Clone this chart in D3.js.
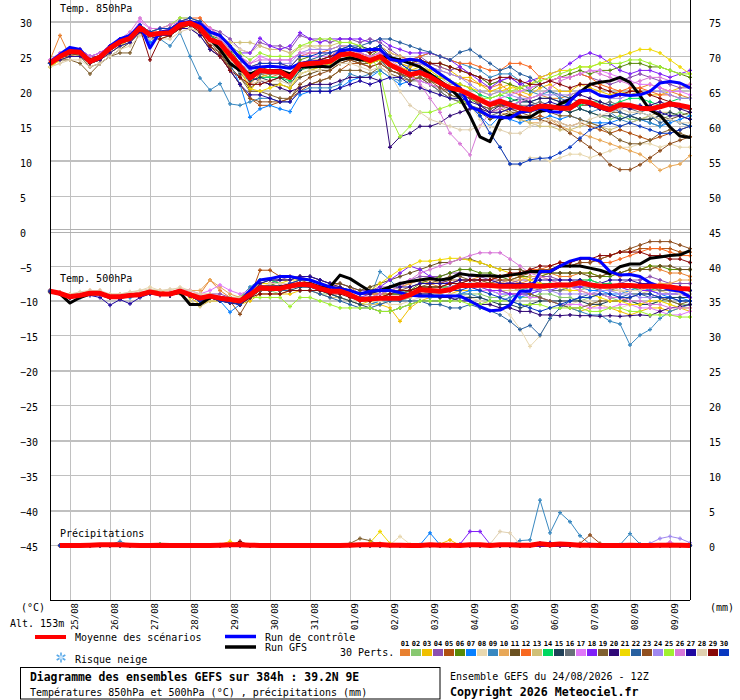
<!DOCTYPE html>
<html>
<head>
<meta charset="utf-8">
<script src="https://cdn.jsdelivr.net/npm/d3@7"></script>
<style>
  body { margin: 0; background: #fff; }
  svg text { font-family: 'DejaVu Sans Mono', monospace; font-size: 10px; fill: #000; }
</style>
</head>
<body>
<svg id="gefs"></svg>
<script>
//Data - 6h steps from 24/08 12Z (t=0) to +384h
const hours = d3.range(0, 385, 6);
const precipHours = d3.range(6, 385, 6);
const dayHours = d3.range(12, 373, 24);
const dateLabels = ['25/08','26/08','27/08','28/08','29/08','30/08','31/08','01/09','02/09','03/09','04/09','05/09','06/09','07/09','08/09','09/09'];
const leftTicks = [30,25,20,15,10,5,0,-5,-10,-15,-20,-25,-30,-35,-40,-45];
const rightTicks = [75,70,65,60,55,50,45,40,35,30,25,20,15,10,5,0];
const pertLabels = ['01','02','03','04','05','06','07','08','09','10','11','12','13','14','15','16','17','18','19','20','21','22','23','24','25','26','27','28','29','30'];
const pertColors = ['#e88030','#88c870','#f0c000','#8c50b0','#b05010','#588a08','#0880ff','#e8d8b0','#3888c0','#e8a858','#6a5020','#f86820','#d0c078','#00d860','#204058','#687078','#e078f8','#8020f8','#806030','#300878','#f0d800','#2860a0','#905020','#a088f0','#a0f030','#d878d8','#2008a0','#e0d0b0','#880808','#0838c0'];

//850hPa
const mean850 = [24,25,25.7,25.6,24.3,24.9,26.2,27.1,27.6,29.1,28.1,28.3,28.4, 29.5,29.8,29.1,27.4,26.9,25.2,23.6,21.9,23,22.8,22.8,22,23.8, 24,24.1,24.3,25.2,25.4,25,24.4,25,23.8,23.1,22.4,22.7,22.1, 21.2,20.5,20.2,19.5,18.8,18.1,18.6,18.1,17.6,17.4,17.9,17.8,17.6, 17.6,18.6,18.4,17.8,17.4,18.1,18,17.6,17.5,17.8,18.2,18,17.7];
const control850 = [24.2,25.3,26.3,26,24.3,25,26.5,27.5,28,29.5,26.2,28.5,28.7, 29.8,30,29.7,28.5,28,26.5,24.7,23.3,23.5,23.6,23.5,23.3,24, 24.2,24.3,24.3,25.8,26,25.8,26,26,24.6,24.3,24.6,24.4,23.5, 22.5,21.5,20.5,17.8,17.2,16.4,16.3,16.2,17,17.2,17.6,17.1,17, 18.6,20,20.2,19.4,19.2,19.6,19.4,19.5,20,21.2,21.4,21.2,20.5];
const gfs850 = [24,25,25.5,25.5,24.5,25,26,27,27.5,29,28,28.3,28.5, 29.5,29.8,29,27.5,26,24,23,22.5,23,23,23,22.5,23.5, 23.5,23.6,23.5,24.5,24.8,24.5,24.5,25,24.8,24.5,24,23.5,22.5, 21.5,20.5,19,16.5,13.5,12.8,16,16.6,16.3,16.3,17.2,17.3,18.2, 18.8,19.9,21,21.3,21.5,22,21.3,19.4,17.3,16.6,14.9,13.6,13.4];
const perts850 = [
  [24.5,28,25,25.5,24,25,26.5,27.5,28,29.5,28.5,28.5,29, 30,30.5,30,28,27,25,23,21,22.5,22,22.5,21.5,23.5, 24,24.5,25,26,26,25.5,25,25.5,24.5,24,23.5,24,23.5, 23,22.5,22,21.5,21,20.5,21,20,19.5,19,19.5,19,19, 19.5,20,20,19.5,19,19.5,20,20.5,21,20.5,20,19.5,19],
  [23.5,24.5,25.5,25,24,24.5,26,27,27.5,29,28,28,28, 29,29.5,29,27.5,27,25.5,24,22,22.5,22,22,21,22.5, 23,23.5,24,24.5,25,24.5,24,24.5,23,22.5,22,22,21.5, 21,20,19.5,19,18.5,18,18.5,18,17.5,17.5,18,18,17.5, 17,17.5,17,16.5,16,16.5,16,16,16.5,16,16.5,17,16.5],
  [23.5,24.5,25,25,24,24.5,25.5,26.5,27,28.5,27.5,27.5,28, 29,29.5,29,27,26.5,25,23.5,20,22,22.5,23,22.5,24, 24,24,24,25,25,24.5,24,25,24.5,24,23.5,24.5,24, 23.5,23,22,22,21,20,20.5,21,20,19.5,20.5,21,20, 20,21,20.5,20,19.5,20,19.5,20,19.5,19.5,20,20.5,21],
  [24,25,26,26,25,25,26.5,27.5,28,29.5,28.5,29,29, 30,30,30,29,28.5,27.5,26,25.5,27,26.5,26.5,26,28, 27.5,27.5,27,27.5,27.5,27,27.5,27,26,25,24.5,25,24, 23.5,23,23.5,22.5,22,21,21.5,22,21,20.5,21,21.5,22, 22,22.5,22,21.5,21,21.5,22,22.5,22,21.5,21,20.5,20.5],
  [24,25,25.5,25.5,24.5,25,26,27,27.5,29,28,28.5,28.5, 29.5,30,29,26,25,23,21,19,18,18,18.5,19,20, 21,21.5,22,23,24,24,23.5,24,23,22.5,22,22.5,22, 21,20,20.5,19.5,18,17,17.5,17,16.5,16,16.5,16,15.5, 15,15.5,15,14.5,14,14.5,14,13.5,13,13.5,14,14.5,15],
  [24,25,25.5,25.5,24.5,25,26,27,27.5,29,28,28.5,28.5, 29.5,30,29.5,28,27.5,26,24,22.5,23.5,23,23,22.5,24.5, 25,25,25,26,26,25.5,25,26,25,24.5,24,24.5,24, 24,23.5,23,22.5,22,21,21.5,21,20.5,20,21,21.5,22, 22.5,23,22.5,23,23,23.5,24,24,23.5,23.5,23,22.5,22],
  [24,25,26,26,24.5,25,26,27,28,29.5,27,28,28.5, 29.5,30,29,27,26,24,21,16.3,17.5,18,17.5,17.1,19.5, 20,20,20,20.5,21.5,22,22,23,22,21,21.5,22,21, 20,19,18.5,18,16.5,15,16.5,16,15.5,16,16,16.5,16, 16.5,16,15.5,15.5,15.5,16,16.5,16,15.5,15,15.5,16,16.5],
  [23.5,24,25,25,24,24.5,25.5,26.5,27,28.5,28,28,28, 29,29.5,29,28,28,27,26,25.5,26.5,26,26,25.5,26, 26.5,26,26,26.5,26,25.5,26,25.5,24,23,22.5,21,20, 19.5,19,18.5,18,16,14,12,9.5,9.5,10.5,10.5,10,10.5, 11,11,10.5,11,11.5,12,12,12.5,12.5,12,12.5,12,12],
  [24,25,25.5,25.5,24.5,25,25.5,26.5,27,28.5,27.5,27.5,26.5, 28.4,25,21.9,20.2,21.1,18.2,18,18.5,19,19,18.5,18.5,20, 20.5,20.5,20.5,21,22.5,22,22.5,23,22,21.5,24,25,25.5, 25,24.5,24,23.5,23,22,22.5,22.5,21.5,20,19.5,20,19, 18.5,17.5,17,17.5,17,16,15.5,16,15.5,15,16,15.5,15],
  [24,25,25.5,25.5,24,25,26.5,27.5,28,29.5,28.5,28.5,28.5, 29.5,30,29.5,28,27,25.5,24,22,23,23,23,22.5,24, 24.5,24.5,24.5,25.5,25.5,25,24.5,25,23.5,23,22,22,21, 20,19,18.5,18,17.5,17,17,16.5,16,15.5,15.5,16,15, 14.5,14,13.5,13,12.5,12,11.5,11,10,8.7,9.3,9.6,10.8],
  [24,25,25,25,23.5,24,25,26,27,28.5,27.5,28,28, 29,29.5,28.5,26.5,25.5,23.5,22,20.5,21.5,21,21,20.5,22, 22.5,23,23,24,24.5,24,24,24.5,23,22.5,21.5,22,21, 20.5,19.5,19,18,17,16,16.5,17,17,17.5,17,18,17.5, 17.5,18,18,17.5,17,17,16.5,16,16,16.5,16,16.5,17],
  [24,25,26,26,24.5,25,26.5,27.5,28,29.5,28.5,29,29, 30,30.5,30.5,29,28,26.5,25,23.5,24,24,24,23.5,25, 25.5,25.5,26,26.5,26.5,26,26,26.5,25.5,25,24.5,25,25.5, 25,24.5,24,24,23.5,23,23,24,24,23.5,22,21.5,22, 22,22.5,22,21,20.5,20,20.5,20.5,20,19.5,19.5,19,19],
  [23.5,24.5,25,25,24,24.5,25.5,26.5,27,28.5,27.5,27.5,28, 29,29,28.5,27.5,27.5,27,27,27,26.5,26,26,25.5,26.5, 26.5,26.5,26.5,27,27,26.5,26,26.5,25.5,25,24,24,23, 22,21,21,20.5,19.5,18,18,17,16,15.5,15,15,14.5, 14.5,15,15.5,15,14.5,15,15.5,16,16.5,17,17,16.5,16],
  [24,25,25.5,25.5,24.5,25,26,27,27.5,29,28,28.5,28.5, 29.5,30,29.5,28,27,25,23,21.5,22,22,22,21.5,23, 23.5,23.5,24,25,25,24.5,24,24.5,23.5,23,22.5,23,22.5, 22,21.5,21,20.5,19.5,19,19.5,19,18.5,18.5,19,19,18.5, 18,18,18.5,18.5,18,18.5,19,19,18.5,18,18.5,19,19],
  [24,25,25.5,25.5,24,25,26,27,27.5,29,28,28,28.5, 29.5,29.5,29,27.5,26.5,24.5,22.5,21.5,22,21.5,22,21,23, 24,24.5,25,25.5,26,26.5,26,26.5,25,24,23,23,22, 21,20,19.5,19,18,17.5,18,18.5,19,18.5,18,17.5,17.5, 17,17.5,17,16.5,16.5,16,16.5,16,16,16.5,17,16.5,16],
  [24,25,25.5,25.5,24.5,25,26,27,27.5,29,28,28,28.5, 29.5,30,29.5,27.5,26.5,24.5,23,22,22.5,22.5,22.5,22,24, 24,24,24.5,25,25,24.5,24,24.5,23,22.5,21.5,21.5,21, 20,19,18.5,18,17.5,16.5,17,17.5,18,18,18.5,18,18, 18,18.5,18,18,18.5,18,17.5,17,17.5,18,18,17.5,17.5],
  [24.5,25.5,26,26,25,25.5,26.5,27.5,28,30,29,29,29.5, 30.5,30.5,30,29,28,26.5,25,24,25,24.5,24.5,24.5,25.5, 25,25,25,26,26,25.5,25,25.5,24,23,22,21.5,21, 20.5,20,19.5,19,18.5,18.5,19,19.5,20,20.5,21,21.5,22, 22,22.5,23,23,22.5,22,21.5,21,21,20.5,20,20,19.5],
  [24,25,25.5,26,25,25.5,26.5,27.5,28,29.5,28.5,29,29, 30,30,29.5,28.5,28,26.5,25.5,25.5,27.6,26.5,26,26.5,28.4, 27.5,27,27.5,27.5,27.5,27.5,27,27.5,26.5,26,25.5,25.5,25.5, 25,24.5,23.5,22.5,21.5,20.5,21.5,22,21,21.5,22,22.5,23, 24,25,25.5,25,24,23,22.5,23,23,22.5,22,22.5,23],
  [24,24.5,24.5,24,22.5,24,25,25.5,25.5,28.5,27.5,28,28, 29,29,28,26,25,23.5,22,20,20,19.5,19,19,20.5, 21,21.5,22,23,23,23,22.5,23.5,22.5,22,21.5,22,21.5, 21,20,19.5,19,18,17.5,18,17.5,17,17,17.5,17,16.5, 16.5,16,15.5,15,14,13,12.5,12.5,13,14,14.5,14,13.5],
  [24,25,25.5,25.5,24.5,25,26,27,27.5,29,28,28,28.5, 29.5,29.5,29,27.5,26.5,24.5,23,22,21.5,21,20.5,20,20.5, 21,21,21,21.5,22,22,22,21.5,12,13.5,14,15,15, 15.5,16.5,17,17.5,17.5,17,18,18,18.5,18.5,19,19,18.5, 19,19.5,19,18.5,18,18,17.5,17.5,18,18.5,18,17.5,17],
  [23.5,24.5,25,25,24,24.5,25.5,26.5,27.5,29,28,28,28, 29,29.5,29,27.5,26.5,24.5,23,20.4,20,20.5,21,20.5,22.5, 23,23.5,24,25,25,24.5,24,24.5,24,23.5,23,23.5,23, 22,21.5,21,20.5,20,19.5,20,20.5,20.5,21,22,22.5,23, 23,23.5,23.5,24,24.5,25,25.5,26,26,25.5,24.5,23.5,22.5],
  [24,25,26,25.5,24.5,25,26,27,27.5,29,28,28.5,28.5, 29.5,30,29.5,28,27,25.5,24,22.5,23,23,23,22.5,24, 24.5,25,25.5,26,26.5,26.5,27,27.5,27.5,27,26.5,26,25.6, 25,24.5,25.6,26,25,24,23,23.5,22.5,22,21,20,19.5, 19,18.5,18,17.5,18,17,16.5,17,16.5,15.5,16,15.5,15],
  [24,25,25.5,25.5,24,24.5,26,27,27.5,29,28,28.5,28.5, 29.5,30,29,27,25.5,23,21,19,18.5,18.5,18.5,19,21, 22,22.5,23,24,24.5,24,23.5,24,23,22.5,22,22.5,21.5, 20.5,20,19.5,19,18.5,18,18,17.5,17,16.5,16,15.5,15, 14,13,12,11,9.5,8.8,8.8,9.5,10.5,11.5,12.5,13,13.5],
  [24,25,25.5,25.5,24,25,26,27,27.5,29,28,28.5,28.5, 29.5,29.5,29,27.5,26.5,25,24,23,24,24,24,24,25.5, 26,26,26,26.5,26.5,26,25.5,26,25,24.5,24,24,23.5, 23,22.5,22,21,20,19.5,20,19.5,19,19,19.5,19.5,19.5, 19.5,20,20,19.5,19,19,19.5,19.5,20,20,19.5,19,19],
  [24,25,25.5,25.5,24.5,25,26,27,27.5,29.5,28.5,29,29.5, 30.5,30.5,30,28.5,28,26.5,25.5,24.5,25.5,25,25,25,26.5, 27,27.5,27.5,27,27,26.5,25.5,22.5,16.5,13.5,15,17,17, 17.5,18,18.5,18.5,19,19,19.5,20,20.5,21,21.5,22,22.5, 23,23.5,23.5,24,24,24,24.5,24.5,24,23.5,23,22.5,22.5],
  [24.5,25.5,26,26,25,25.5,26.5,27.5,28.5,30.5,29,29,29.5, 30,30,29.5,28.5,27.5,26,25,24,24.5,24.5,24.5,24.5,25.5, 25.5,25.5,25.5,26,26,25.5,25,25.5,24.5,23.5,22.5,21,19, 17,14,12.5,10.9,15,17,17.5,18,18.5,19,19.5,20.5,21.5, 22,22.5,23,22.5,22,21.5,21,21.5,22,22,21.5,21,21],
  [24,24.5,25,25,24,24.5,25.5,26.5,27,28.5,27.5,28,28, 29,29,28,26,25,23,21,19.5,19.5,19,18.5,18.5,20, 20,20,20,20.5,21,21.5,21,21.5,22,22,21,20.5,20, 19.5,19,19,18.5,18,17,17,17.5,17.5,18,18,18.5,18, 18,18.5,18,17.5,17,17.5,18,18,17.5,17,16.5,16.5,16],
  [23.5,24,24.5,24.5,23.5,24,25,26,26.5,28,27.5,27.5,27.5, 28.5,29,28.5,27,26,24.5,23,21,21.5,21.5,21.5,21,22.5, 23,23,23.5,24,24,23.5,23,23.5,22.5,20,18,17,16, 15.5,15,14.5,14.5,15,15,14.5,14,14,15,15.5,16,15.5, 15,15.5,16,16.5,17,17.5,17,17,16.5,16,16,15.5,15.5],
  [24,25,25.5,25.5,24,25,26,27,27.5,29,24.5,27.5,28, 29,29.5,28.5,26.5,25,23,22,21,21,21.5,22,22,23.5, 24,24.5,25,25.5,26,26,25.5,26,25,24.5,24,24.5,24, 24,23.5,23,22.5,22,21.5,22,22,21.5,21,21,21.5,21, 20.5,21,21,20.5,20,19.5,20,20,19.5,19,18.5,18,17.5],
  [24,25,26,26,24.5,25,26.5,27.5,28,29.5,28.5,29,29, 30,30.5,30,28.5,28,26.5,25,23.5,24,24,24,23.5,25, 25,25.5,25.5,26,26.5,26,26,26.5,25,24,23,23,22.5, 21,20,19.5,18,16.5,14,12,9.6,9.6,10.2,10.4,10.5,11.2, 12,13.3,14.5,15,15.5,15,15.5,15,14.5,14,14,14.5,15]
];

//500hPa
const mean500 = [-8.6,-8.9,-9.4,-9.2,-8.9,-8.9,-9.4,-9.4,-9.2,-9.1,-8.7,-9,-9, -8.6,-9.1,-9.6,-9.3,-9.6,-9.8,-10,-9.1,-8.1,-8.2,-8.2,-7.9,-7.6, -7.7,-8.2,-8.6,-8.6,-9.1,-9.8,-9.7,-9.6,-9.6,-9.6,-9.1,-8.4,-8.5, -8.6,-8.4,-7.8,-7.8,-7.7,-7.8,-7.9,-7.9,-7.9,-7.8,-7.9,-7.8,-7.7, -7.7,-7.4,-7.7,-7.9,-7.9,-7.8,-7.8,-7.9,-7.9,-7.9,-8,-8.2,-8.3];
const control500 = [-8.6,-8.9,-9.4,-9.2,-8.9,-8.9,-9.4,-9.4,-9.2,-9.1,-8.7,-9,-9, -8.6,-9.1,-9.5,-9.3,-9.5,-9.8,-10,-8.5,-7,-6.8,-6.5,-6.5,-6.8, -7,-7.5,-8,-8.3,-8.5,-9,-8.6,-8.5,-8.5,-8.8,-9.2,-9.3,-9.3, -9.3,-9.3,-9.3,-10,-10.8,-11.4,-11.3,-10.6,-8.6,-8.6,-5.8,-5.8,-5, -4.3,-3.9,-3.9,-4.3,-5.8,-6.3,-6.2,-6.5,-7.4,-7.9,-8.4,-8.6,-9.4];
const gfs500 = [-8.6,-9,-10.3,-9.5,-9,-9,-9.5,-9.5,-9.2,-9.1,-8.7,-9,-9, -8.8,-10.5,-10.5,-9.5,-9.5,-9.8,-10,-9,-8,-8,-8,-7.8,-7.5, -7.5,-8,-8,-6.3,-6.8,-7.7,-8.6,-8.5,-8,-7.5,-7.2,-7,-6.8, -7,-6.8,-6.1,-6.3,-6.4,-6.4,-6.5,-6.3,-6.1,-5.8,-5.8,-5.8,-5, -5,-5,-5.3,-5.6,-6.1,-5.1,-4.7,-4.7,-3.9,-3.7,-3.5,-3.4,-2.8];
const perts500 = [
  [-8.5,-9,-9,-9,-8.5,-8.5,-9.5,-9,-9,-9,-8.5,-8.5,-9, -8.5,-9,-9,-7,-8.5,-9.5,-10,-9,-7.5,-7.5,-7,-7,-6.5, -7,-7.5,-8,-7.5,-8,-9,-9,-8.5,-8.5,-8,-7.5,-7,-7.5, -8,-7.5,-7,-7,-6.5,-6.5,-7,-7,-7.5,-7,-6.5,-6,-6.5, -6.5,-6,-6,-6.5,-6,-6.5,-6,-5.5,-5,-5.5,-6,-6,-6.5],
  [-8.8,-9,-9.5,-9.5,-9,-9,-9.5,-9.5,-9.5,-9,-9,-9,-9, -8.8,-9.2,-9.8,-9.5,-9.5,-10,-10,-9.5,-8.5,-8.5,-9,-8.5,-8.5, -8.5,-9,-9,-9.5,-10,-10.5,-10.5,-10,-10,-9.5,-9,-8.5,-9, -9.5,-9.5,-9,-9,-9,-9.5,-9.5,-9,-9.5,-9.5,-9,-9,-9.5, -9.5,-10,-9.5,-9,-9.5,-10,-10,-10.5,-10.5,-10,-10,-10.5,-10.5],
  [-8.7,-9,-9.3,-9.2,-9,-9,-9.5,-9.5,-9,-9,-8.8,-9,-9, -8.5,-9.5,-10.5,-10,-10,-10,-10.5,-10,-9,-9,-9,-9,-8.5, -8.5,-8.5,-9,-9.5,-10,-10.5,-10,-10.5,-11,-12.9,-11,-10,-9.5, -9.5,-9,-8.5,-8.5,-8.5,-8.5,-8.5,-9,-9,-9,-9.5,-10,-10.5, -11,-11.5,-11,-10.5,-11,-11.5,-12,-11.5,-11,-11,-11.5,-11,-11.5],
  [-8.5,-8.8,-9.2,-9,-8.8,-8.8,-9.2,-9.2,-9,-8.8,-8.5,-8.8,-8.8, -8.5,-9,-9.5,-9,-9,-9.5,-9.5,-8.5,-7.5,-7.5,-7,-6.5,-6.5, -6.5,-7,-7.5,-7.5,-8,-8.5,-8.5,-8,-8,-7.5,-7,-6.5,-6.5, -6.5,-6,-6,-6.5,-6.5,-7,-7,-7.5,-7,-7,-6.5,-6.5,-7, -7,-7.5,-7,-7.5,-8,-7.5,-7,-7,-6.5,-7,-7.5,-7.5,-7.5],
  [-8.6,-9,-9.5,-9.3,-9,-9,-9.5,-9.5,-9.3,-9,-8.8,-9,-9, -8.6,-9.2,-9.8,-9.5,-9.8,-10,-10.5,-9.5,-5.6,-5.6,-6.5,-6.5,-7, -7.5,-8,-8.5,-8.5,-9,-9.5,-9.5,-9.5,-9,-9,-8.5,-8,-8, -8,-8,-7.5,-7,-7,-7,-6.5,-6.5,-6,-6,-5.5,-5.5,-5, -5,-4.5,-4.5,-4,-3.5,-3,-3,-2.5,-2.5,-2.5,-2.5,-3,-3],
  [-8.7,-9,-9.4,-9.2,-8.9,-9,-9.5,-9.4,-9.2,-9.1,-8.7,-9,-9, -8.7,-9.2,-9.7,-9.5,-9.8,-10,-10,-9,-7.5,-7.5,-8,-7.5,-7, -7,-7.5,-8,-8,-8.5,-9,-9,-9,-9,-9,-8.5,-7.5,-7, -6.5,-6,-5.5,-5.5,-6,-6,-6.5,-7,-6.5,-6.5,-6.5,-6,-6, -6,-6,-6,-6.5,-6.5,-6,-5.5,-5.5,-5,-5,-5.5,-5.5,-5.5],
  [-8.5,-9,-9.5,-9.5,-9,-9,-9.5,-9.5,-9.5,-9.2,-8.8,-9,-9.2, -8.8,-9.3,-10,-9.5,-10,-11.6,-10.5,-9.5,-8.5,-8.5,-8.5,-8,-8, -8,-8.5,-9,-9.5,-10,-10.5,-10.5,-10,-10,-10,-9.5,-9,-9, -9,-9.5,-9,-8.5,-8.5,-8.5,-9,-9,-9.5,-9,-8.5,-8.5,-8.5, -8,-8,-8.5,-8.5,-9,-9,-8.5,-8,-8.5,-9,-9.5,-9.5,-10],
  [-8.8,-9,-9.2,-9,-8.8,-8.8,-9,-9,-8.8,-8.5,-8,-8.5,-8.5, -8,-8.5,-9,-9,-9.5,-9.5,-9.5,-9,-8,-8,-8.5,-8.5,-8.5, -8.5,-9,-9.5,-9.5,-10,-10,-10,-10,-10.5,-10.5,-10,-9.5,-9.5, -9.5,-9,-9,-9.5,-10,-10.5,-11,-12,-14,-16.5,-15,-12.5,-11, -10.5,-10,-10,-10.5,-11,-11,-10.5,-10.5,-10,-10,-10.5,-11,-11],
  [-8.5,-8.8,-9.2,-9,-8.8,-8.8,-9.2,-9.2,-9,-9,-8.6,-8.8,-8.8, -8.5,-9,-9.5,-9,-9.5,-9.5,-9.5,-8,-7,-7,-7.5,-7.5,-7.5, -7.5,-8,-8.5,-8.5,-9,-9.5,-9.5,-5.8,-7,-8.5,-9,-9,-9.5, -9.5,-9.5,-9,-9,-9.5,-10,-10,-9.5,-9,-9,-9.5,-10,-10.5, -11,-11.5,-12,-12,-12.9,-13.3,-16.3,-14.9,-14.1,-12.5,-11.5,-11,-10.5],
  [-8.5,-8.8,-9.3,-9,-8.8,-8.8,-9.3,-9.3,-9,-8.8,-8.5,-8.8,-8.8, -8.3,-8.5,-8.5,-7,-8,-9,-9.5,-8.5,-7,-7,-7.5,-7.5,-7.5, -7.5,-8,-8,-8,-8.5,-9,-9,-9,-8.5,-8,-7.5,-7,-7, -7.5,-7.5,-7,-7,-7,-7.5,-7.5,-7,-7,-6.5,-6.5,-7,-7.5, -7.5,-7,-7,-7.5,-8,-8,-8.5,-8.5,-8,-7.5,-7.5,-7,-7],
  [-8.7,-9,-9.5,-9.3,-9,-9,-9.5,-9.5,-9.2,-9,-8.7,-9,-9, -8.7,-9.2,-9.8,-9.5,-9.8,-10,-10,-9,-7.5,-7,-7,-7,-6.5, -6.5,-7,-7.5,-7.5,-8,-8.5,-8,-7.5,-7,-6.5,-6,-5.5,-5, -4.5,-4.5,-4,-4,-4.5,-5,-5.5,-5.5,-5.5,-6,-6,-6,-6, -6,-6,-6.5,-6.5,-6,-6,-5.5,-5.5,-5.5,-5,-5,-5.5,-5.5],
  [-8.6,-9,-9.4,-9.2,-8.9,-8.9,-9.4,-9.4,-9.2,-9.1,-8.7,-9,-9, -8.6,-9,-9.5,-9,-9.5,-9.8,-10,-9,-8,-8,-8,-7.5,-7, -7,-7.5,-8,-8,-8.5,-9,-9,-9,-9,-9,-8.5,-8,-8, -8,-7.5,-7,-7,-7,-7,-6.5,-6.5,-6,-5.5,-5.5,-5,-4.5, -4.5,-4,-4,-4.5,-4.5,-4,-3.5,-3,-2.5,-2.5,-3,-3.5,-3.5],
  [-8.6,-8.9,-9.3,-9.1,-8.8,-8.8,-9.3,-9.3,-9.1,-9,-8.6,-8.9,-9, -9,-10,-10.8,-10,-9.8,-10,-10,-9.5,-9,-9,-9,-8.5,-8.5, -8.5,-9,-9.5,-9.5,-10,-10.5,-10.5,-10.5,-10,-10,-9.5,-9,-9, -9,-8.5,-8,-8,-8,-8.5,-8.5,-8.5,-8.5,-8,-8,-8.5,-8.5, -8.5,-8.5,-8,-8,-8.5,-8.5,-9,-9,-8.5,-8.5,-9,-9,-9],
  [-8.6,-8.9,-9.4,-9.2,-8.9,-8.9,-9.4,-9.4,-9.2,-9.1,-8.7,-9,-9, -8.6,-9,-9.5,-9,-9.5,-9.5,-9.5,-8.5,-7,-7,-7.5,-7.5,-7.5, -7.5,-8,-8.5,-8.5,-9,-9.5,-9.5,-9.5,-9,-9,-8.5,-8,-8, -8,-8,-7.5,-7.5,-7.5,-7.5,-8,-8,-8.5,-8,-7.5,-7.5,-7.5, -7.5,-7,-7,-7.5,-7.5,-8,-8,-8.5,-8.5,-8,-8,-8,-8.5],
  [-8.5,-9,-9.5,-9.3,-9,-9,-9.5,-9.5,-9.3,-9.2,-8.8,-9,-9.2, -8.8,-9.3,-10,-9.5,-10,-10.2,-10.5,-9.5,-8.5,-8.5,-8.5,-8.5,-8, -8,-8.5,-9,-9.5,-10,-10.5,-11,-11.5,-11.5,-11,-10.5,-10,-10, -10,-10,-9.5,-9.5,-9.5,-10,-10.5,-10.5,-11,-10.5,-10,-10,-10, -10,-10,-10.5,-10.5,-10,-10,-10,-10.5,-10.5,-10,-9.5,-9.5,-9.5],
  [-8.6,-8.9,-9.4,-9.2,-8.9,-8.9,-9.4,-9.4,-9.2,-9.1,-8.7,-9,-9, -8.6,-9.1,-9.6,-9.3,-9.6,-9.8,-10,-9,-8,-8,-8,-7.5,-7.5, -7.5,-8,-8.5,-8.5,-9,-9.5,-9.5,-9.5,-9.5,-9.5,-9,-8.5,-8.5, -8.5,-8.5,-8,-8,-8,-8,-8,-8,-8,-8,-8.5,-8.5,-8.5, -8,-8,-8,-8.5,-8.5,-8,-8,-8,-8,-8.5,-8.5,-8.5,-8.5],
  [-8.5,-8.8,-9.2,-9,-8.7,-8.7,-9.2,-9.2,-9,-8.9,-8.5,-8.8,-8.8, -8.3,-8.5,-9,-8.5,-7.7,-8.5,-9,-8.5,-7.5,-7.5,-7.5,-7.5,-7.5, -7.5,-8,-8.5,-8.5,-9,-9.5,-9.5,-9.5,-9.5,-9.5,-9,-8.5,-8.5, -8.5,-8.5,-8,-8,-8.5,-8.5,-9,-9,-9,-9.5,-9.5,-10,-10.5, -10.5,-10.5,-11,-11,-11,-10.5,-10.5,-11,-11,-11.5,-12,-12,-11.5],
  [-8.6,-8.9,-9.4,-9.2,-8.9,-8.9,-9.4,-9.4,-9.2,-9.1,-8.7,-9,-9, -8.6,-9.1,-9.6,-9.3,-9.6,-9.8,-10,-9,-8,-8,-8,-7.5,-7.5, -7.5,-8,-8.5,-8.5,-9,-9.5,-9,-8,-7,-6,-5,-5.5,-6.5, -7,-7.5,-7.5,-8,-8,-8.5,-8.5,-9,-9,-9,-8.5,-8.5,-8, -8,-8,-7.5,-7.5,-8,-8,-8.5,-8.5,-8.5,-9,-9,-9,-9.5],
  [-8.6,-9,-9.5,-9.3,-9,-9,-9.5,-9.5,-9.3,-9.2,-8.8,-9,-9.2, -8.8,-9.3,-10,-9.5,-10,-10.2,-10.5,-9.5,-8.5,-8.5,-8.5,-8,-7.5, -7.5,-8,-8.5,-8.5,-9,-9.5,-9.5,-9.5,-9,-9,-8.5,-8,-7.5, -7,-6.5,-6.5,-7,-7,-7.5,-8,-8,-8.5,-9,-9.5,-10,-10.5, -11,-11,-10.5,-10,-10,-10,-9.5,-9,-9,-9.5,-10,-10.5,-10],
  [-8.6,-9,-9.5,-9.3,-9,-9,-9.5,-9.5,-9.3,-9.2,-8.8,-9,-9.2, -8.8,-9.3,-10,-9.5,-10,-10.2,-10.5,-9.5,-8.5,-8.5,-8.5,-8,-7.5, -7.5,-8,-8.5,-8.5,-9,-9.5,-9.5,-9.5,-9.5,-9.5,-9,-9,-9, -9.5,-9.5,-10,-10,-10.5,-10.5,-11,-11,-11.5,-11.5,-12,-12,-12.1, -12,-12.1,-12.1,-12.2,-12.1,-12.2,-12.1,-12,-12.1,-11.5,-11,-10.8,-10.5],
  [-8.5,-8.8,-9.2,-9,-8.7,-8.7,-9.2,-9.2,-9,-8.9,-8.5,-8.8,-8.8, -8.5,-9,-9.5,-9,-9.5,-9.5,-9.5,-8.5,-7.5,-7.5,-7.5,-7,-7, -7,-7.5,-8,-8,-8.5,-9,-8.5,-7.5,-6.5,-5.5,-5,-4.3,-4.3, -4.1,-3.9,-3.9,-4.2,-4.5,-5,-5.5,-6,-6.5,-7,-7.5,-8,-8, -8.5,-8.5,-9,-9.5,-10,-10,-10.5,-10.5,-10,-10,-10.5,-11,-11],
  [-8.7,-9,-9.4,-9.2,-8.9,-8.9,-9.4,-9.4,-9.2,-9.1,-8.7,-9,-9, -8.7,-9.1,-9.6,-9.3,-9.6,-9.8,-10,-9,-8.5,-8.5,-8.5,-8.5,-8.5, -8.5,-9,-9.5,-10,-10.5,-11,-11,-10.5,-10,-10,-10,-10,-10.5, -10.5,-11,-11,-10.5,-11,-11.4,-12,-12.9,-14.1,-13.5,-14.9,-12.5,-11, -10,-9.5,-9,-9,-9.5,-9.5,-9,-9,-9.5,-9.5,-9.5,-10,-10],
  [-8.6,-9,-9.4,-9.2,-8.9,-8.9,-9.4,-9.4,-9.2,-9.1,-8.7,-9,-9, -8.6,-9.1,-9.6,-9.3,-9.6,-10,-11.9,-9.5,-8.5,-8.5,-8.5,-8,-7.5, -7.5,-8,-8.5,-8.5,-9,-9.5,-9.5,-9,-8.5,-8.5,-8,-7.5,-7.5, -7.5,-7,-7,-7,-7.5,-7.5,-7,-7,-6.5,-6,-5.5,-5.5,-5, -5,-4.5,-4.5,-4,-3.5,-3,-2.5,-2,-1.5,-1.5,-1.5,-2,-2.5],
  [-8.6,-8.9,-9.3,-9.1,-8.8,-8.8,-9.3,-9.3,-9.1,-9,-8.6,-8.9,-8.9, -8.5,-9,-9.5,-9.2,-9.5,-9.7,-10,-9,-8,-8,-8,-7.5,-7.5, -7.5,-8,-8.5,-8.5,-9,-9.5,-9.5,-9.5,-9.5,-9.5,-9,-8.5,-8.5, -8.5,-8,-7.5,-7.5,-7.5,-8,-8,-8,-8,-8.5,-8.5,-8.5,-9, -9,-9,-9,-8.5,-8.5,-9,-9,-9.5,-9.5,-9,-9,-9,-9],
  [-8.7,-9,-9.5,-9.3,-9,-9,-9.5,-9.5,-9.3,-9.2,-8.8,-9.1,-9.1, -8.8,-9.3,-9.8,-9.5,-9.8,-10,-10.2,-9.5,-9.5,-9.5,-9.5,-10.8,-9.5, -9.5,-10,-10.5,-11,-11,-11,-11,-11.5,-11.5,-11,-10.5,-10,-10, -10,-10,-10,-10.5,-10.5,-10,-10,-10,-10.5,-10.5,-10.5,-11,-11, -11,-11,-11.5,-11.5,-11,-11,-11.5,-11.5,-12,-12,-12,-12.3,-12.3],
  [-8.5,-8.8,-9.2,-9,-8.7,-8.7,-9.2,-9.2,-9,-8.9,-8.5,-8.8,-8.8, -8.4,-8.9,-9.4,-9,-9.4,-9.6,-9.8,-8.8,-7.8,-7.8,-7.8,-7.5,-7.5, -7.5,-8,-8.5,-8.5,-9,-9.5,-9.5,-9,-8.5,-8,-7,-6,-5.5, -5,-4.5,-4,-3.5,-3.1,-3.1,-3.1,-4,-5,-6,-6.5,-7,-7.5, -8,-8.5,-9,-9,-9.5,-9.5,-10,-10,-10.5,-10.5,-11,-11,-11],
  [-8.7,-9,-9.5,-9.3,-9.2,-9.5,-10.6,-9.8,-10.4,-9.5,-9,-9.2,-9.2, -8.8,-9.3,-10,-9.5,-10,-10.3,-10.5,-9.5,-7.5,-7,-7,-7,-6.5, -6.5,-7,-7.5,-8,-8.5,-9,-9,-8.5,-8,-8,-8,-7.5,-7.5, -7.5,-7.5,-7,-7,-7,-7,-7.5,-7.5,-7.5,-7.5,-7,-7,-7, -7,-7,-7.5,-7.5,-7,-7,-7,-7.5,-7.5,-8,-8,-8,-8.5],
  [-8.6,-8.8,-9,-8.7,-8.5,-8.5,-9,-9,-8.7,-8.5,-8.3,-8.5,-8.3, -8.2,-8.5,-9,-9,-9.5,-9.5,-9.5,-9,-8,-7.5,-7.5,-7.5,-7.5, -7.5,-8,-8.5,-8.5,-9,-9.5,-9.5,-9.5,-9.5,-9.5,-9,-8.5,-8.5, -8.5,-8.5,-8,-8,-8,-8,-8,-8,-8.5,-8.5,-8,-8,-8, -8,-7.5,-7.5,-7.5,-8,-8.5,-8.5,-8.5,-8,-8,-8.5,-9,-9],
  [-8.6,-9,-9.5,-9.3,-9,-9,-9.5,-9.5,-9.3,-9.2,-8.8,-9,-9.2, -8.8,-9.3,-10,-9.5,-10,-10.2,-10.5,-9.5,-9,-9,-9,-8.5,-8.5, -8.5,-8.5,-9,-9,-9.5,-10,-10,-9.5,-9,-8.5,-8.5,-8,-8, -8,-7.5,-7.5,-7,-7,-7,-6.5,-6,-6,-5.5,-5,-5,-4.5, -4.5,-4,-4,-3.5,-3.5,-3,-3,-3,-3.5,-3.5,-4,-4,-4.5],
  [-8.6,-9,-9.5,-9.3,-9,-9,-9.5,-9.5,-9.3,-9.2,-8.8,-9,-9.2, -8.8,-9.3,-10,-9.5,-10,-10.2,-10.5,-9.2,-8.2,-8.2,-8,-7.5,-7, -7,-7.5,-8,-8.5,-9,-9.5,-9.5,-9.5,-9.5,-9.5,-9,-8.5,-8.5, -8.5,-8.5,-8.5,-8,-8.5,-9,-9.5,-10,-10.5,-11,-11.5,-11,-10.5, -10,-9.5,-9.5,-9,-9,-9.5,-9.5,-9,-9,-9.5,-9.5,-10,-10]
];

//Precipitations (mm), from +6h
const meanPrecip = [0,0,0,0.05,0.1,0.1,0.1,0.05, 0,0,0.05,0,0,0,0,0, 0.05,0.1,0.1,0.05,0,0,0,0, 0,0,0,0,0,0.05,0.1,0.1, 0.15,0.05,0.05,0,0,0.1,0.05,0.05, 0,0.1,0.1,0,0.1,0.1,0.05,0.05, 0.25,0.1,0.2,0.15,0.05,0.05,0,0, 0,0.05,0,0,0.05,0.05,0.05,0];
const controlPrecip = [0,0,0,0,0,0,0,0, 0,0,0,0,0,0,0,0, 0,0,0,0,0,0,0,0, 0,0,0,0,0,0,0,0, 0,0,0,0,0,0,0,0, 0,0,0,0,0,0,0,0, 0,0,0,0,0,0,0,0, 0,0,0,0,0,0,0,0];
const gfsPrecip = [0,0,0,0,0,0,0,0, 0,0,0,0,0,0,0,0, 0,0,0,0,0,0,0,0, 0,0,0,0,0,0,0,0, 0,0,0,0,0,0,0,0, 0,0,0,0,0,0,0,0, 0,0,0,0,0,0,0,0, 0,0,0,0,0,0,0,0];
const pertsPrecip = [
  [0,0,0,0,0,0,0,0, 0,0,0,0,0,0,0,0, 0,0.3,0,0,0,0,0,0, 0,0,0,0,0,0,0,0.3, 0,0,0,0,0,0,0,0, 0,0,0,0,0,0,0,0, 0,0,0,0,0,0,0,0, 0,0,0,0,0,0,0,0],
  [0,0,0,0,0,0,0,0, 0,0,0,0,0,0,0,0, 0,0,0,0,0,0,0,0, 0,0,0,0,0,0,0,0, 0.2,0,0,0,0,0,0,0, 0,0,0,0,0,0,0,0, 0,0,0,0,0,0,0,0, 0,0,0,0,0,0,0,0],
  [0,0,0,0,0,0,0,0, 0,0,0,0,0,0,0,0, 0,0,0.4,0,0,0,0,0, 0,0,0,0,0,0,0,0, 0,0,0,0,0,0,0.2,0.8, 0,0,0,0,0,0,0,0, 0,0,0,0,0,0,0,0, 0,0,0,0,0,0,0,0],
  [0,0,0,0,0,0,0,0, 0,0,0,0,0,0,0,0, 0,0,0,0,0,0,0,0, 0,0,0,0,0,0,0,0, 0,0,0,0,0,0,0,0, 0,0,0,0,0,0,0,0, 0,0,0,0,0,0,0,0, 0,0,0,0,0,0,0,0],
  [0,0,0,0,0,0,0,0, 0,0,0,0,0,0,0,0, 0,0,0,0,0,0,0,0, 0,0,0,0,0,0,0,0.3, 0,0,0,0,0,0,0,0, 0,0,0,0,0,0,0,0, 0,0,0,0,0,0,0,0, 0,0,0,0,0,0,0,0],
  [0,0,0,0,0,0,0,0, 0,0,0,0,0,0,0,0, 0,0,0,0,0,0,0,0, 0,0,0,0,0,0,0,0, 0,0,0,0,0,0,0,0, 0,0,0,0,0,0,0,0, 0,0,0,0,0,0,0,0, 0,0,0,0,0,0,0,0],
  [0,0,0,0,0,0,0,0, 0,0,0,0,0,0,0,0, 0,0,0,0,0,0,0,0, 0,0,0,0,0,0,0,0, 0,0,0,0,0.1,1.8,0.1,0, 0,0,0,0,0,0,0,0, 0,0,0,0,0,0,0,0, 0,0,0,0,0,0,0,0],
  [0,0,0,0,0,0,0,0, 0,0,0,0,0,0,0,0, 0,0,0,0,0,0,0,0, 0,0,0,0,0,0,0,0, 0,0.1,1.3,0.2,0,0,0,0, 0,0,0,0,0,0,0,0, 0,0,0,0,0,0,0,0, 0,0,0,0,0,0,0,0],
  [0,0,0,0,0,0.1,0.6,0, 0,0,0,0,0,0,0,0, 0,0,0,0,0,0,0,0, 0,0,0,0,0,0,0,0, 0,0,0,0,0,0,0,0, 0,0,0,0,0,0,0.7,0.8, 6.5,1.8,4.7,3.4,1.4,0.2,0,0, 0.1,1.7,0.2,0.2,0,0,0,0],
  [0,0,0,0,0,0,0,0, 0,0,0,0,0,0,0,0, 0,0,0,0,0,0,0,0, 0,0,0,0,0,0,0,0, 0.2,0,0,0,0,0,0,0, 0,0,0,0,0,0,0,0, 0,0,0,0,0,0,0,0, 0,0,0,0,0,0,0,0],
  [0,0,0,0,0,0,0,0, 0,0,0,0,0,0,0,0, 0,0,0,0,0,0,0,0, 0,0,0,0,0,0,0,0, 0,0,0,0,0,0,0,0, 0,0,0,0,0,0,0,0, 0,0,0,0,0,0,0,0, 0,0,0,0,0,0,0,0],
  [0,0,0,0,0,0,0,0, 0,0,0,0,0,0,0,0, 0,0,0,0,0,0,0,0, 0,0,0,0,0,0,0,0, 0,0,0,0,0,0,0,0, 0,0,0,0,0,0,0,0, 0,0,0,0,0,0,0,0, 0,0,0,0,0,0,0,0],
  [0,0,0,0,0,0,0,0, 0,0,0,0,0,0,0,0, 0,0,0,0,0,0,0,0, 0,0,0,0,0,0,0,0, 0,0,0,0,0,0,0,0, 0,0,0,0,0,0,0,0, 0,0,0,0,0,0,0,0, 0,0,0,0,0,0,0,0],
  [0,0,0,0,0,0,0,0, 0,0,0.2,0,0,0,0,0, 0,0,0,0,0,0,0,0, 0,0,0,0,0,0,0,0, 0,0,0,0,0,0,0,0, 0,0,0,0,0,0,0,0, 0,0,0,0,0,0,0,0, 0,0,0,0,0,0,0,0],
  [0,0,0,0,0,0,0,0, 0,0,0,0,0,0,0,0, 0,0,0,0,0,0,0,0, 0,0,0,0,0,0,0,0, 0,0,0,0,0,0,0,0, 0,0,0,0,0,0,0,0, 0,0,0,0,0,0,0,0, 0,0,0,0,0,0,0,0],
  [0,0,0,0,0,0,0,0, 0,0,0,0,0,0,0,0, 0,0,0,0,0,0,0,0, 0,0,0,0,0,0,0,0, 0,0,0,0,0,0,0,0, 0,0,0,0,0,0,0,0, 0,0,0,0,0,0,0,0, 0,0,0,0,0,0,0,0],
  [0,0,0,0,0,0,0,0, 0,0,0,0,0,0,0,0, 0,0,0,0,0,0,0,0, 0,0,0,0,0,0,0,0, 0,0,0,0,0,0,0,0, 0,0,0,0,0,0,0,0, 0,0,0,0,0,0,0,0, 0,0,0,0,0,0.4,0,0],
  [0,0,0,0,0,0,0,0, 0,0,0,0,0,0,0,0, 0,0,0,0,0,0,0,0, 0,0,0,0,0,0,0,0, 0,0,0,0,0,0,0,0, 0.2,2,2,0.2,0,0,0,0, 0,0,0,0,0,0,0,0, 0,0,0,0,0,0,0,0],
  [0,0,0,0,0,0,0,0, 0,0,0,0,0,0,0,0, 0,0,0,0,0,0,0,0, 0,0,0,0,0,0.3,1,0.7, 0,0,0,0,0,0,0,0, 0,0,0,0,0,0,0,0, 0,0,0,0,0,0,0,0, 0,0,0,0,0,0,0,0],
  [0,0,0,0,0,0,0,0, 0,0,0,0,0,0,0,0, 0,0,0,0,0,0,0,0, 0,0,0,0,0,0,0,0, 0,0,0,0,0,0,0,0, 0,0,0,0,0,0,0,0, 0,0,0,0,0,0,0,0, 0,0,0,0,0,0,0,0],
  [0,0,0,0,0,0,0,0, 0,0,0,0,0,0,0,0, 0.1,0.6,0,0,0,0,0,0, 0,0,0,0,0,0,0,0.4, 2,0.3,0,0,0,0,0,0, 0,0,0,0,0,0,0,0, 0,0,0,0,0,0,0,0, 0,0,0,0,0,0,0,0],
  [0,0,0,0,0,0,0,0, 0,0,0,0,0,0,0,0, 0,0,0,0,0,0,0,0, 0,0,0,0,0,0,0,0, 0,0,0,0,0,0,0,0, 0,0,0,0,0,0,0,0, 0,0,0,0,0,0,0,0, 0,0,0,0,0,0,0,0],
  [0,0,0,0,0,0,0,0, 0,0,0,0,0,0,0,0, 0,0,0,0,0,0,0,0, 0,0,0,0,0,0,0,0, 0,0,0,0,0,0,0,0, 0,0,0,0,0,0,0,0, 0,0,0,0,0.3,1.5,0.3,0, 0,0,0,0,0,0,0,0],
  [0,0,0,0,0,0,0,0, 0,0,0,0,0,0,0,0, 0,0,0,0,0,0,0,0, 0,0,0,0,0,0,0,0, 0,0,0,0,0,0,0,0, 0,0,0,0,0,0,0,0, 0,0,0,0,0,0,0,0, 0,0,0,0.3,1,1.3,1,0.4],
  [0,0,0,0,0,0,0,0, 0,0,0,0,0,0,0,0, 0,0,0,0,0,0,0,0, 0,0,0,0,0,0,0,0, 0.3,0,0,0,0,0,0,0, 0,0,0,0,0,0,0,0, 0,0,0,0,0,0,0,0, 0,0,0,0,0,0,0,0],
  [0,0,0,0,0,0,0,0, 0,0,0,0,0,0,0,0, 0,0,0,0,0,0,0,0, 0,0,0,0,0,0,0,0, 0,0,0,0,0,0,0,0, 0,0,0,0,0,0,0,0, 0,0,0,0,0,0,0,0, 0,0,0,0,0,0.5,0,0],
  [0,0,0,0,0,0,0,0, 0,0,0,0,0,0,0,0, 0,0,0,0,0,0,0,0, 0,0,0,0,0,0,0,0, 0,0,0,0,0,0,0,0, 0,0,0,0,0,0,0,0, 0.3,0.4,0,0,0,0,0,0, 0,0,0,0,0,0,0,0],
  [0,0,0,0,0,0,0,0, 0,0,0,0,0,0,0,0, 0,0,0,0,0,0,0,0, 0,0,0,0,0,0,0,0, 0,0,0,0,0,0,0,0, 0,0,0,0.2,2,1.8,0.2,0, 0,0,0,0,0,0,0,0, 0,0,0,0,0,0,0,0],
  [0,0,0,0,0,0,0,0, 0,0,0,0,0,0,0,0, 0,0,0.6,0,0,0,0,0, 0,0,0,0,0,0,0,0, 0,0,0,0,0,0,0,0, 0,0,0,0,0,0,0,0, 0,0,0,0,0,0,0,0, 0,0,0,0,0,0,0,0],
  [0,0,0,0,0,0,0,0, 0,0,0,0,0,0,0,0, 0,0,0,0,0,0,0,0, 0,0,0,0,0,0,0,0, 0,0,0,0,0,0,0,0, 0,0,0,0,0,0,0,0, 0.3,0,0,0,0,0,0,0, 0,0,0,0,0,0,0,0]
];

window.addEventListener('DOMContentLoaded', e => {
    //Canvas
    let width = 740;
    let height = 700;
    let plot = {left: 50, right: 690, top: 0, bottom: 600};

    let svg = d3.select('#gefs')
        .attr('width', width)
        .attr('height', height);

    //Scales: left axis in °C, right axis in mm, sharing the same pixels
    let xScale = d3.scaleLinear().domain([0, 384]).range([plot.left, plot.right]);
    let yLeft = d3.scaleLinear().domain([-45, 30]).range([545.5, 21.5]);
    let yRight = d3.scaleLinear().domain([0, 75]).range([545.5, 21.5]);

    let marker = d3.symbol().type(d3.symbolCross).size(9);

    let drawGrid = () => {
        let grid = svg.append('g').attr('shape-rendering', 'crispEdges').attr('stroke', '#c0c0c0');
        grid.selectAll('line.v')
            .data(dayHours)
            .enter()
            .append('line')
            .attr('class', 'v')
            .attr('x1', d => xScale(d)).attr('x2', d => xScale(d))
            .attr('y1', plot.top).attr('y2', plot.bottom);
        grid.selectAll('line.h')
            .data(leftTicks.filter(d => d !== 0))
            .enter()
            .append('line')
            .attr('class', 'h')
            .attr('x1', plot.left).attr('x2', plot.right)
            .attr('y1', d => yLeft(d)).attr('y2', d => yLeft(d))
            .attr('stroke-width', d => d % 10 === 0 ? 2 : 1);
        // double line between the two temperature panels
        [-1.5, 1.5].forEach(off => {
            grid.append('line')
                .attr('x1', plot.left).attr('x2', plot.right)
                .attr('y1', yLeft(0) + off).attr('y2', yLeft(0) + off)
                .attr('stroke', '#b0b0b0');
        });
    }

    let drawFrame = () => {
        let frame = svg.append('g').attr('shape-rendering', 'crispEdges').attr('stroke', '#000');
        frame.append('line').attr('x1', plot.left).attr('x2', plot.left).attr('y1', plot.top).attr('y2', plot.bottom);
        frame.append('line').attr('x1', plot.right).attr('x2', plot.right).attr('y1', plot.top).attr('y2', plot.bottom);
        frame.append('line').attr('x1', plot.left).attr('x2', plot.right).attr('y1', plot.bottom).attr('y2', plot.bottom);
    }

    let generateAxes = () => {
        let leftAxis = d3.axisLeft(yLeft).tickValues(leftTicks).tickSize(0).tickPadding(0);
        svg.append('g')
            .attr('transform', 'translate(20,0)')
            .call(leftAxis)
            .call(g => g.select('.domain').remove())
            .selectAll('text')
            .attr('text-anchor', 'start')
            .attr('x', 0)
            .attr('dy', 5);

        let rightAxis = d3.axisRight(yRight).tickValues(rightTicks).tickSize(0).tickPadding(0);
        svg.append('g')
            .attr('transform', 'translate(709,0)')
            .call(rightAxis)
            .call(g => g.select('.domain').remove())
            .selectAll('text')
            .attr('x', 0)
            .attr('dy', 5);

        let dateAxis = d3.axisBottom(xScale).tickValues(dayHours).tickSize(0)
            .tickFormat((d, i) => dateLabels[i]);
        svg.append('g')
            .attr('transform', 'translate(0,' + plot.bottom + ')')
            .call(dateAxis)
            .call(g => g.select('.domain').remove())
            .selectAll('text')
            .attr('transform', 'rotate(-90)')
            .attr('text-anchor', 'end')
            .attr('x', -3)
            .attr('y', 7.5)
            .attr('dy', 0)
            .style('font-size', '9px');
    }

    let drawSeries = (layer, values, times, yScale, color, w, withMarkers) => {
        let line = d3.line()
            .x((d, i) => xScale(times[i]))
            .y(d => yScale(d));
        layer.append('path')
            .datum(values)
            .attr('fill', 'none')
            .attr('stroke', color)
            .attr('stroke-width', w)
            .attr('stroke-linejoin', 'round')
            .attr('d', line);
        if (withMarkers) {
            layer.selectAll(null)
                .data(values)
                .enter()
                .append('path')
                .attr('d', marker)
                .attr('fill', color)
                .attr('transform', (d, i) => 'translate(' + xScale(times[i]) + ',' + yScale(d) + ')');
        }
    }

    let drawLines = () => {
        let members = svg.append('g');
        perts850.forEach((vals, k) => drawSeries(members, vals, hours, yLeft, pertColors[k], 1, true));
        perts500.forEach((vals, k) => drawSeries(members, vals, hours, yLeft, pertColors[k], 1, true));
        pertsPrecip.forEach((vals, k) => drawSeries(members, vals, precipHours, yRight, pertColors[k], 1, true));

        let runs = svg.append('g');
        drawSeries(runs, gfs850, hours, yLeft, '#000', 3, false);
        drawSeries(runs, gfs500, hours, yLeft, '#000', 3, false);
        drawSeries(runs, gfsPrecip, precipHours, yRight, '#000', 3, false);
        drawSeries(runs, control850, hours, yLeft, '#0000ff', 3, false);
        drawSeries(runs, control500, hours, yLeft, '#0000ff', 3, false);
        drawSeries(runs, controlPrecip, precipHours, yRight, '#0000ff', 3, false);
        drawSeries(runs, mean850, hours, yLeft, '#ff0000', 5, false);
        drawSeries(runs, mean500, hours, yLeft, '#ff0000', 5, false);
        drawSeries(runs, meanPrecip, precipHours, yRight, '#ff0000', 5, false);
    }

    let drawLabels = () => {
        svg.append('text').attr('x', 60).attr('y', 11.5).text('Temp. 850hPa');
        svg.append('text').attr('x', 60).attr('y', 281.5).text('Temp. 500hPa');
        svg.append('text').attr('x', 60).attr('y', 537).text('Précipitations');
        svg.append('text').attr('x', 21).attr('y', 611).text('(°C)');
        svg.append('text').attr('x', 10).attr('y', 627).text('Alt. 153m');
        svg.append('text').attr('x', 710).attr('y', 611).text('(mm)');
    }

    let drawLegend = () => {
        let lg = svg.append('g');
        lg.append('line').attr('x1', 35).attr('x2', 66).attr('y1', 637).attr('y2', 637)
            .attr('stroke', '#ff0000').attr('stroke-width', 4);
        lg.append('text').attr('x', 75).attr('y', 641).text('Moyenne des scénarios');
        lg.append('line').attr('x1', 225).attr('x2', 256).attr('y1', 636.5).attr('y2', 636.5)
            .attr('stroke', '#0000ff').attr('stroke-width', 3.5);
        lg.append('text').attr('x', 265).attr('y', 641).text('Run de contrôle');
        lg.append('line').attr('x1', 225).attr('x2', 256).attr('y1', 647).attr('y2', 647)
            .attr('stroke', '#000').attr('stroke-width', 3.5);
        lg.append('text').attr('x', 265).attr('y', 650.5).text('Run GFS');

        // snow risk icon
        let flake = lg.append('g').attr('transform', 'translate(61,657.5)')
            .attr('stroke', '#58a8e8').attr('stroke-width', 1.6);
        [0, 60, 120].forEach(a => {
            flake.append('line').attr('x1', -5).attr('x2', 5).attr('y1', 0).attr('y2', 0)
                .attr('transform', 'rotate(' + (a + 90) + ')');
        });
        flake.append('circle').attr('r', 2).attr('fill', '#c8e4fa').attr('stroke', 'none');
        lg.append('text').attr('x', 75).attr('y', 662.5).text('Risque neige');

        lg.append('text').attr('x', 340).attr('y', 656).text('30 Perts.');

        lg.selectAll('rect.pert')
            .data(pertColors)
            .enter()
            .append('rect')
            .attr('class', 'pert')
            .attr('x', (d, i) => 400 + i * 11)
            .attr('y', 649)
            .attr('width', 10)
            .attr('height', 7)
            .attr('fill', d => d);
        lg.selectAll('text.pert')
            .data(pertLabels)
            .enter()
            .append('text')
            .attr('class', 'pert')
            .attr('x', (d, i) => 405 + i * 11)
            .attr('y', 646)
            .attr('text-anchor', 'middle')
            .style('font-size', '7px')
            .style('font-weight', 'bold')
            .text(d => d);
    }

    let drawTitle = () => {
        svg.append('rect')
            .attr('x', 20.5).attr('y', 667.5)
            .attr('width', 419.5).attr('height', 31.5)
            .attr('fill', 'none').attr('stroke', '#000');
        svg.append('text').attr('x', 30).attr('y', 681)
            .style('font-weight', 'bold').style('font-size', '11.4px')
            .text('Diagramme des ensembles GEFS sur 384h : 39.2N 9E');
        svg.append('text').attr('x', 30).attr('y', 695.5)
            .text('Températures 850hPa et 500hPa (°C) , précipitations (mm)');
        svg.append('text').attr('x', 450).attr('y', 679.5)
            .text('Ensemble GEFS du 24/08/2026 - 12Z');
        svg.append('text').attr('x', 450).attr('y', 696)
            .style('font-weight', 'bold').style('font-size', '11.6px')
            .text('Copyright 2026 Meteociel.fr');
    }

    drawGrid();
    drawLines();
    drawFrame();
    generateAxes();
    drawLabels();
    drawLegend();
    drawTitle();
})
</script>
</body>
</html>
